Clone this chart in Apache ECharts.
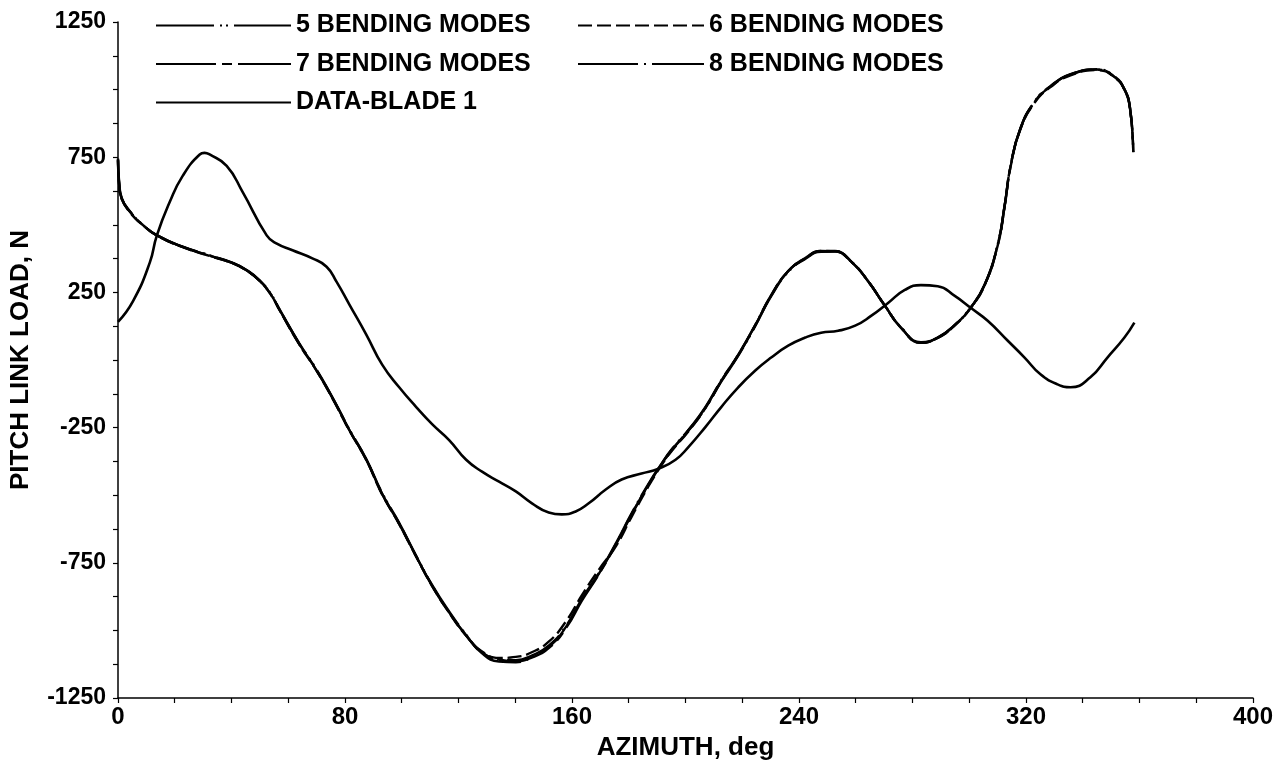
<!DOCTYPE html>
<html>
<head>
<meta charset="utf-8">
<script src="https://cdn.jsdelivr.net/npm/echarts@6/dist/echarts.min.js"></script>
<style>
html, body { margin: 0; padding: 0; background: #fff; }
#chart { width: 1276px; height: 766px; }
</style>
</head>
<body>
<div id="chart"></div>
<script>
// azimuth (deg) of the points
var azModel = [0, 0.4, 1.3, 4.2, 8.8, 13.7, 22.8, 32.3, 40.5, 45.3, 50, 54, 57, 64, 70, 76, 81.5, 87.5, 93, 99, 105,
  110.7, 116.7, 122.7, 128.3, 134.3, 140.2, 146, 152, 158, 163.5, 169.5, 175.5, 181, 187, 191.5, 195, 201, 207, 212.6, 218.6,
  224.6, 230.2, 236.2, 242.2, 247.8, 252.7, 258.3, 264.3, 270.3, 276, 283, 289, 295, 300.5, 305.4, 310, 312.5, 314.6, 318, 323,
  328.6, 335.7, 345.2, 351, 354.7, 356.7, 357.8]

var mode5 = [745, 660, 600, 550, 500, 461, 419, 387, 359, 333, 294, 242, 186, 60, -36, -146, -256, -366, -490, -600, -722,
  -832, -930, -1016, -1085, -1115, -1118, -1098, -1060, -985, -885, -790, -680, -570, -460, -388, -336, -262, -178, -80, 16,
  126, 236, 326, 374, 400, 401, 364, 292, 201, 120, 66, 84, 131, 194, 278, 426, 574, 720, 856, 955, 1013, 1057, 1075, 1050, 1002, 930, 772]

var mode6 = [738, 648, 595, 546, 498, 460, 417, 385, 357, 331, 292, 240, 183, 56, -40, -150, -260, -370, -495, -605, -726,
  -836, -935, -1020, -1078, -1102, -1098, -1080, -1040, -965, -870, -775, -688, -580, -466, -390, -338, -264, -178, -78, 18,
  128, 238, 328, 376, 403, 403, 366, 293, 201, 119, 64, 82, 129, 192, 276, 422, 569, 716, 852, 951, 1009, 1053, 1072, 1047, 999, 926, 768]

var mode7 = [742, 652, 598, 549, 499, 462, 418, 386, 358, 332, 293, 241, 185, 58, -38, -148, -258, -368, -493, -603, -724,
  -834, -933, -1018, -1082, -1106, -1114, -1100, -1064, -990, -890, -792, -682, -572, -461, -386, -334, -260, -176, -77, 19,
  129, 239, 329, 377, 403, 402, 365, 292, 200, 119, 64, 83, 130, 193, 277, 425, 572, 719, 855, 954, 1012, 1056, 1074, 1049, 1001, 928, 770]

var mode8 = [740, 650, 597, 548, 499, 461, 418, 386, 358, 332, 292, 240, 184, 57, -39, -149, -259, -369, -494, -604, -725,
  -835, -934, -1019, -1081, -1110, -1110, -1092, -1055, -982, -883, -787, -677, -567, -457, -384, -332, -259, -174, -75, 20,
  130, 240, 329, 376, 402, 402, 365, 292, 200, 119, 64, 83, 130, 193, 277, 424, 571, 718, 854, 953, 1011, 1055, 1074, 1048, 1000, 927, 769]

// measured data, blade 1
var azData = [0, 5.3, 11.2, 13.7, 18.3, 22.8, 28.8, 30.5, 32.3, 38.3, 43.9, 52.4, 55.8, 61.5, 68.5, 73.5, 77, 81.6, 87.5, 93.1,
  99.1, 105.1, 110.7, 116.7, 122.7, 128.3, 134.3, 140.2, 145.9, 151.8, 156.4, 161.3, 165.9, 171.9, 177.5, 184.5, 190.5, 196.5, 201.1, 207,
  212.6, 218.6, 224.6, 230.2, 236.2, 242.2, 247.8, 253.8, 259.8, 265.4, 271.4, 277.3, 283, 288.9, 294.9, 300.5, 306.5, 313.5, 319.5, 325.1,
  331.1, 335.7, 342.7, 348.7, 354.7, 358.2]

var blade1 = [141, 218, 360, 461, 586, 681, 760, 766, 760, 718, 622, 461, 431, 406, 376, 345, 290, 204, 94, -17,
  -101, -174, -237, -296, -369, -413, -450, -486, -530, -564, -571, -560, -530, -479, -442, -420, -402, -369, -321, -248,
  -174, -101, -39, 9, 53, 83, 101, 108, 127, 163, 211, 259, 277, 273, 237, 193, 145, 72, 9, -53,
  -90, -101, -64, 9, 83, 138]

var xTickLabels = [0, 80, 160, 240, 320, 400]
var yTickLabels = [-1250, -750, -250, 250, 750, 1250]

function pairs (xs, ys) {
  var out = []
  for (var i = 0; i < xs.length; i++) {
    out.push([xs[i], ys[i]])
  }
  return out
}

var font = 'Liberation Sans'
var legendText = { color: '#000', fontFamily: font, fontWeight: 'bold', fontSize: 25 }
var nameText = { color: '#000', fontFamily: font, fontWeight: 'bold', fontSize: 26 }

function modelSeries (name, values, dash) {
  return {
    name: name,
    type: 'line',
    data: pairs(azModel, values),
    smooth: 0.5,
    symbol: 'none',
    lineStyle: { color: '#000', width: 2.4, type: dash }
  }
}

var chart = echarts.init(document.getElementById('chart'), null, { renderer: 'canvas' })

var option = {
  animation: false,
  backgroundColor: '#fff',
  grid: { left: 118, top: 22, width: 1140, height: 681 },
  legend: [
    {
      data: ['5 BENDING MODES', '7 BENDING MODES', 'DATA-BLADE 1'],
      orient: 'vertical',
      left: 150,
      top: 8,
      itemWidth: 135,
      itemHeight: 14,
      itemGap: 13.5,
      selectedMode: false,
      itemStyle: { opacity: 0 },
      textStyle: legendText
    },
    {
      data: ['6 BENDING MODES', '8 BENDING MODES'],
      orient: 'vertical',
      left: 572,
      top: 8,
      itemWidth: 126,
      itemHeight: 14,
      itemGap: 13.5,
      selectedMode: false,
      itemStyle: { opacity: 0 },
      textStyle: legendText
    }
  ],
  xAxis: {
    type: 'value',
    min: 0,
    max: 400,
    interval: 20,
    name: 'AZIMUTH, deg',
    nameLocation: 'middle',
    nameGap: 37,
    nameTextStyle: nameText,
    axisLine: { onZero: false, lineStyle: { color: '#000', width: 1.5 } },
    axisTick: { length: 5, lineStyle: { color: '#000', width: 1.2 } },
    axisLabel: {
      customValues: xTickLabels,
      formatter: function (v) { return String(v) },
      color: '#000', fontFamily: font, fontWeight: 'bold', fontSize: 24, margin: 7
    },
    splitLine: { show: false }
  },
  yAxis: {
    type: 'value',
    min: -1250,
    max: 1250,
    interval: 125,
    name: 'PITCH LINK LOAD, N',
    nameLocation: 'middle',
    nameGap: 84,
    nameTextStyle: nameText,
    axisLine: { show: true, onZero: false, lineStyle: { color: '#000', width: 1.5 } },
    axisTick: { show: true, length: 5, lineStyle: { color: '#000', width: 1.2 } },
    axisLabel: {
      customValues: yTickLabels,
      formatter: function (v) { return String(v) },
      color: '#000', fontFamily: font, fontWeight: 'bold', fontSize: 23, margin: 12
    },
    splitLine: { show: false }
  },
  series: [
    modelSeries('5 BENDING MODES', mode5, [58, 6, 2, 4, 2, 6]),
    modelSeries('6 BENDING MODES', mode6, [14, 5]),
    modelSeries('7 BENDING MODES', mode7, [60, 6, 10, 6]),
    modelSeries('8 BENDING MODES', mode8, [60, 6, 2, 6]),
    {
      name: 'DATA-BLADE 1',
      type: 'line',
      data: pairs(azData, blade1),
      smooth: 0.5,
      symbol: 'none',
      lineStyle: { color: '#000', width: 2.6, type: 'solid' }
    }
  ]
}

chart.setOption(option)
</script>
</body>
</html>
